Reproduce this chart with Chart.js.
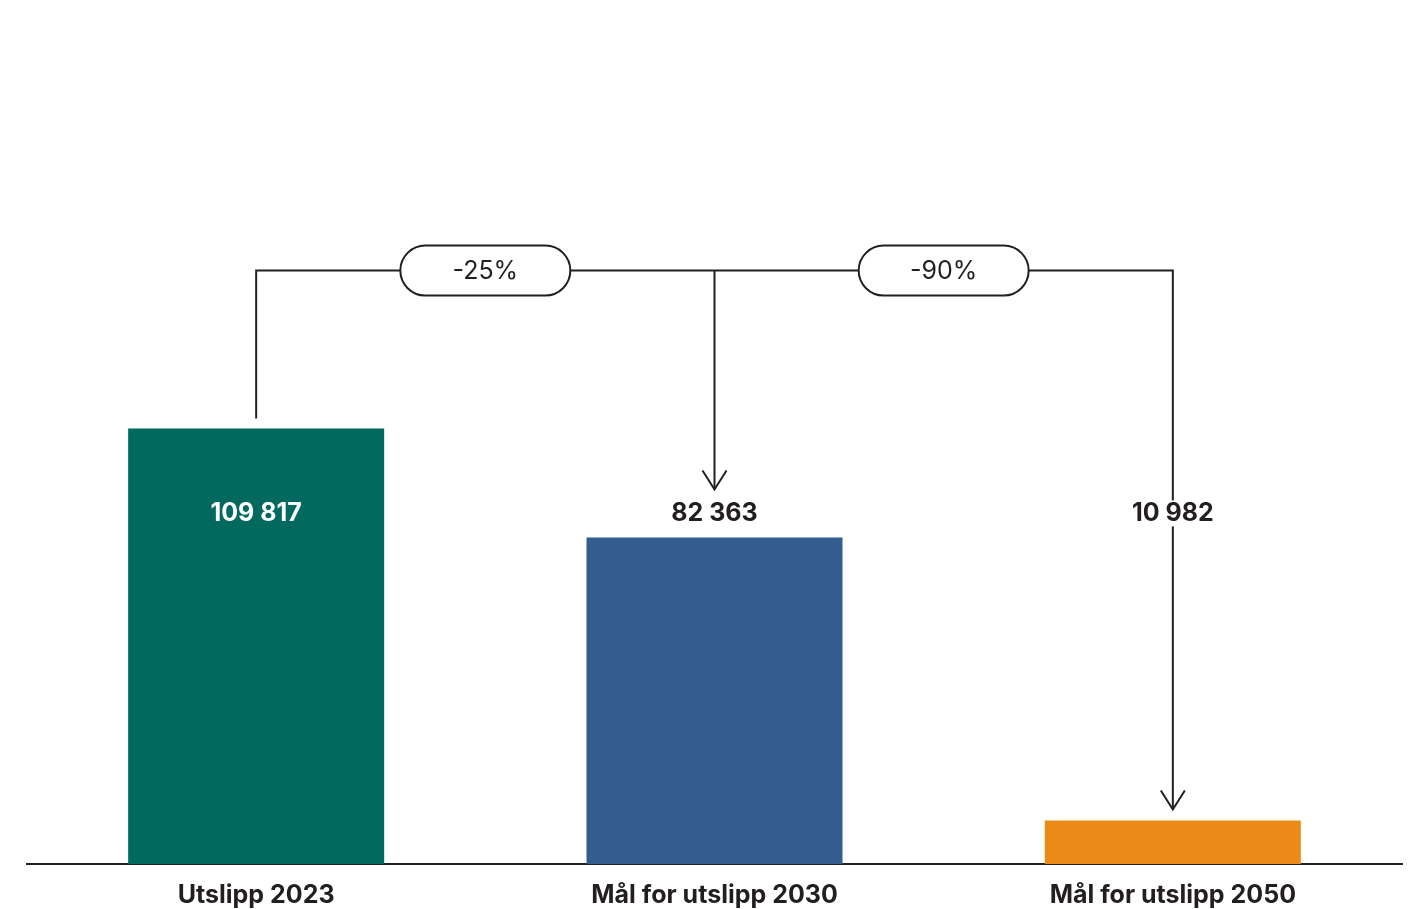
<!DOCTYPE html>
<html>
<head>
<meta charset="utf-8">
<script src="https://cdn.jsdelivr.net/npm/chart.js@4.4.1/dist/chart.umd.min.js"></script>
<style>
  html, body { margin: 0; padding: 0; background: #ffffff; overflow: hidden; }
  #wrap { width: 1414px; height: 909px; position: relative; }
</style>
</head>
<body>
<div id="wrap"><canvas id="c" width="1414" height="909"></canvas></div>
<script>
const categories = ['Utslipp 2023', 'Mål for utslipp 2030', 'Mål for utslipp 2050'];
const values = [109817, 82363, 10982];
const valueLabels = ['109 817', '82 363', '10 982'];
const barColors = ['#02695e', '#335d8f', '#ec8a17'];
const labelColors = ['#ffffff', '#231f20', '#231f20'];
const changeLabels = ['-25%', '-90%'];

const INK = '#231f20';
const FONT = 'Inter, "Noto Sans", sans-serif';

const overlay = {
  id: 'overlay',
  afterDatasetsDraw(chart) {
    const ctx = chart.ctx;
    const bars = chart.getDatasetMeta(0).data;
    const b1 = bars[0], b2 = bars[1], b3 = bars[2];
    const labelY = b2.y - 24;
    const bracketY = b1.y - 158;

    ctx.save();
    ctx.strokeStyle = INK;
    ctx.lineWidth = 2;
    ctx.lineJoin = 'miter';
    ctx.lineCap = 'butt';

    ctx.beginPath();
    ctx.moveTo(b1.x, b1.y - 10);
    ctx.lineTo(b1.x, bracketY);
    ctx.lineTo(b3.x, bracketY);
    ctx.lineTo(b3.x, b3.y - 11);
    ctx.stroke();
    ctx.beginPath();
    ctx.moveTo(b2.x, bracketY);
    ctx.lineTo(b2.x, labelY - 24);
    ctx.stroke();

    function arrow(x, y) {
      ctx.beginPath();
      ctx.moveTo(x - 12, y - 19);
      ctx.lineTo(x, y);
      ctx.lineTo(x + 12, y - 19);
      ctx.stroke();
    }
    arrow(b2.x, labelY - 24);
    arrow(b3.x, b3.y - 11);

    ctx.font = '400 25px ' + FONT;
    ctx.textAlign = 'center';
    ctx.textBaseline = 'middle';
    function pill(cx, cy, text) {
      const w = 170, h = 50, r = 25;
      ctx.beginPath();
      ctx.moveTo(cx - w / 2 + r, cy - h / 2);
      ctx.lineTo(cx + w / 2 - r, cy - h / 2);
      ctx.arc(cx + w / 2 - r, cy, r, -Math.PI / 2, Math.PI / 2);
      ctx.lineTo(cx - w / 2 + r, cy + h / 2);
      ctx.arc(cx - w / 2 + r, cy, r, Math.PI / 2, Math.PI * 1.5);
      ctx.closePath();
      ctx.fillStyle = '#ffffff';
      ctx.fill();
      ctx.stroke();
      ctx.fillStyle = INK;
      ctx.fillText(text, cx, cy + 1);
    }
    pill((b1.x + b2.x) / 2, bracketY, changeLabels[0]);
    pill((b2.x + b3.x) / 2, bracketY, changeLabels[1]);

    ctx.font = '700 25px ' + FONT;
    bars.forEach((b, i) => {
      const t = valueLabels[i];
      if (i === 2) {
        const w = ctx.measureText(t).width;
        ctx.fillStyle = '#ffffff';
        ctx.fillRect(b.x - w / 2 - 2, labelY - 13, w + 4, 26);
      }
      ctx.fillStyle = labelColors[i];
      ctx.fillText(t, b.x, labelY);
    });
    ctx.restore();
  }
};

new Chart(document.getElementById('c'), {
  type: 'bar',
  data: {
    labels: categories,
    datasets: [{
      data: values,
      backgroundColor: barColors,
      borderWidth: 0,
      categoryPercentage: 1,
      barPercentage: 0.5586
    }]
  },
  options: {
    responsive: false,
    animation: false,
    devicePixelRatio: 1,
    layout: { padding: { left: 27, right: 12, top: 71, bottom: -17 } },
    plugins: { legend: { display: false }, tooltip: { enabled: false } },
    scales: {
      y: { display: false, min: 0, max: 200000 },
      x: {
        grid: { display: false, drawTicks: false },
        border: { display: true, color: INK, width: 2 },
        ticks: {
          color: INK,
          padding: 16,
          font: { family: FONT, size: 25, weight: '700' }
        }
      }
    }
  },
  plugins: [overlay]
});
</script>
</body>
</html>
